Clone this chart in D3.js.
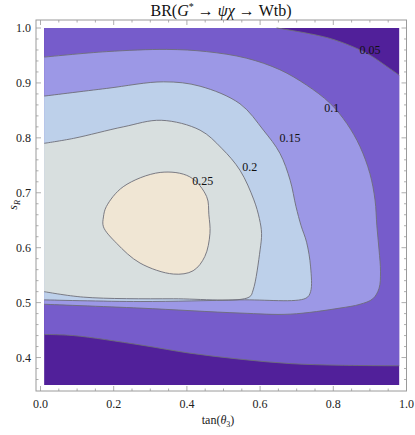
<!DOCTYPE html>
<html>
<head>
<meta charset="utf-8">
<script src="https://cdn.jsdelivr.net/npm/d3@7"></script>
<style>
  body { margin: 0; background: #fff; }
  text { font-family: "Liberation Serif", "Times New Roman", serif; }
</style>
</head>
<body>
<div id="chart"></div>
<script>
// contour levels of BR, and the band colours (lowest band first)
const levels = [0.05, 0.1, 0.15, 0.2, 0.25];
const levelLabels = ["0.05", "0.1", "0.15", "0.2", "0.25"];
const bandColors = ["#51209a", "#765ccb", "#9c98e6", "#bdd0ea", "#d8dfdf", "#f0e6d4"];

// contour lines, points are [tan(theta3), sR]
const c005low = [[0.01,0.442],[0.09,0.440],[0.272,0.423],[0.408,0.408],[0.545,0.397],[0.682,0.389],[0.818,0.386],[0.98,0.385]];
const c005top = [[0.645,1.0],[0.791,0.981],[0.891,0.954],[0.946,0.930],[0.98,0.914]];
const c010 = [[0.01,0.947],[0.181,0.957],[0.345,0.961],[0.454,0.957],[0.563,0.945],[0.654,0.924],[0.727,0.896],
  [0.791,0.863],[0.837,0.826],[0.873,0.784],[0.900,0.735],[0.914,0.687],[0.919,0.640],[0.925,0.596],[0.929,0.556],
  [0.925,0.526],[0.908,0.507],[0.873,0.497],[0.818,0.490],[0.682,0.479],[0.545,0.481],[0.272,0.490],[0.01,0.497]];
const c015 = [[0.01,0.876],[0.181,0.890],[0.336,0.902],[0.436,0.894],[0.545,0.862],[0.609,0.814],[0.654,0.772],
  [0.682,0.723],[0.698,0.675],[0.712,0.640],[0.727,0.610],[0.738,0.565],[0.738,0.520],[0.725,0.508],[0.545,0.505],
  [0.272,0.502],[0.01,0.505]];
const c020 = [[0.01,0.790],[0.09,0.799],[0.226,0.820],[0.330,0.832],[0.436,0.814],[0.495,0.781],[0.545,0.741],
  [0.583,0.687],[0.598,0.653],[0.604,0.626],[0.600,0.596],[0.581,0.523],[0.570,0.510],[0.363,0.507],[0.117,0.510],
  [0.01,0.520]];
const c025 = [[0.327,0.737],[0.408,0.729],[0.454,0.693],[0.460,0.660],[0.463,0.626],[0.449,0.584],[0.417,0.558],
  [0.363,0.552],[0.272,0.572],[0.208,0.608],[0.172,0.638],[0.172,0.656],[0.180,0.675],[0.226,0.711]];

// where the level labels sit
const labelX = [0.900, 0.796, 0.682, 0.572, 0.443];
const labelY = [0.960, 0.854, 0.799, 0.747, 0.721];

const xTicks = [0, 0.2, 0.4, 0.6, 0.8, 1.0];
const yTicks = [0.4, 0.5, 0.6, 0.7, 0.8, 0.9, 1.0];

const width = 415, height = 435;
const xData = [0.01, 0.98], yData = [0.35, 1.0];
const serif = "'Liberation Serif', 'Times New Roman', serif";

const x = d3.scaleLinear().domain([0, 1]).range([40.5, 406.5]);
const y = d3.scaleLinear().domain(yData).range([385, 28]);

const svg = d3.select("#chart").append("svg")
  .attr("width", width)
  .attr("height", height)
  .attr("font-family", serif);

const line = d3.line()
  .x(d => x(d[0]))
  .y(d => y(d[1]))
  .curve(d3.curveCatmullRom.alpha(0.5));
const closed = d3.line()
  .x(d => x(d[0]))
  .y(d => y(d[1]))
  .curve(d3.curveCatmullRomClosed.alpha(0.5));

const plot = svg.append("g");

// lowest band fills the whole plot range
plot.append("rect")
  .attr("x", x(xData[0])).attr("y", y(yData[1]))
  .attr("width", x(xData[1]) - x(xData[0]))
  .attr("height", y(yData[0]) - y(yData[1]))
  .attr("fill", bandColors[0]);

// region above 0.05
const above005 = line(c005low)
  + line(c005top.slice().reverse()).replace(/^M/, "L")
  + "L" + x(xData[0]) + "," + y(yData[1]) + "Z";
plot.append("path").attr("d", above005).attr("fill", bandColors[1]);

// the inner regions close along the left edge
[c010, c015, c020].forEach((c, i) => {
  plot.append("path").attr("d", line(c) + "Z").attr("fill", bandColors[i + 2]);
});
plot.append("path").attr("d", closed(c025)).attr("fill", bandColors[5]);

// contour lines
const lineColor = "#6e6e78";
[c005low, c005top, c010, c015, c020].forEach(c => {
  plot.append("path").attr("d", line(c))
    .attr("fill", "none").attr("stroke", lineColor).attr("stroke-width", 0.9);
});
plot.append("path").attr("d", closed(c025))
  .attr("fill", "none").attr("stroke", lineColor).attr("stroke-width", 0.9);

// level labels
plot.selectAll("text.lvl")
  .data(levels)
  .join("text")
  .attr("class", "lvl")
  .attr("x", (d, i) => x(labelX[i]))
  .attr("y", (d, i) => y(labelY[i]) + 4)
  .attr("text-anchor", "middle")
  .attr("font-family", serif)
  .attr("font-size", 12)
  .attr("fill", "#111")
  .text((d, i) => levelLabels[i]);

// frame
const fx0 = 36, fx1 = 406.5, fy0 = 20, fy1 = 391;
const frameColor = "#9a9a9a";
svg.append("rect")
  .attr("x", fx0).attr("y", fy0)
  .attr("width", fx1 - fx0).attr("height", fy1 - fy0)
  .attr("fill", "none").attr("stroke", frameColor).attr("stroke-width", 1);

// ticks on all four sides, pointing in
const xMinor = d3.range(0, 1.0001, 0.05).filter(v => !xTicks.some(t => Math.abs(t - v) < 1e-6));
const yMinor = d3.range(0.36, 1.0001, 0.02).filter(v => !yTicks.some(t => Math.abs(t - v) < 1e-6));
const ticks = svg.append("g").attr("stroke", frameColor).attr("stroke-width", 0.8);
xTicks.concat(xMinor).forEach(v => {
  const len = xTicks.includes(v) ? 5 : 2.5;
  ticks.append("line").attr("x1", x(v)).attr("x2", x(v)).attr("y1", fy1).attr("y2", fy1 - len);
  ticks.append("line").attr("x1", x(v)).attr("x2", x(v)).attr("y1", fy0).attr("y2", fy0 + len);
});
yTicks.concat(yMinor).forEach(v => {
  const len = yTicks.includes(v) ? 5 : 2.5;
  ticks.append("line").attr("y1", y(v)).attr("y2", y(v)).attr("x1", fx0).attr("x2", fx0 + len);
  ticks.append("line").attr("y1", y(v)).attr("y2", y(v)).attr("x1", fx1).attr("x2", fx1 - len);
});

// tick labels
svg.selectAll("text.xt")
  .data(xTicks)
  .join("text")
  .attr("class", "xt")
  .attr("x", d => x(d))
  .attr("y", 408)
  .attr("text-anchor", "middle")
  .attr("font-family", serif)
  .attr("font-size", 12)
  .attr("fill", "#222")
  .text(d => d3.format(".1f")(d));

svg.selectAll("text.yt")
  .data(yTicks)
  .join("text")
  .attr("class", "yt")
  .attr("x", 31)
  .attr("y", d => y(d) + 4)
  .attr("text-anchor", "end")
  .attr("font-family", serif)
  .attr("font-size", 12)
  .attr("fill", "#222")
  .text(d => d3.format(".1f")(d));

// axis titles
const xt = svg.append("text")
  .attr("x", 218).attr("y", 424)
  .attr("text-anchor", "middle")
  .attr("font-size", 12)
  .attr("fill", "#222");
xt.append("tspan").text("tan(");
xt.append("tspan").attr("font-style", "italic").text("θ");
xt.append("tspan").attr("font-size", 8).attr("dy", 3).text("3");
xt.append("tspan").attr("dy", -3).text(")");

const yt = svg.append("text")
  .attr("transform", "translate(17,205) rotate(-90)")
  .attr("text-anchor", "middle")
  .attr("font-size", 12)
  .attr("fill", "#222");
yt.append("tspan").attr("font-style", "italic").text("s");
yt.append("tspan").attr("font-style", "italic").attr("font-size", 8).attr("dy", 3).text("R");

// title
const title = svg.append("text")
  .attr("x", 221).attr("y", 16)
  .attr("text-anchor", "middle")
  .attr("font-size", 16)
  .attr("fill", "#111");
title.append("tspan").text("BR(");
title.append("tspan").attr("font-style", "italic").text("G");
title.append("tspan").attr("font-size", 10).attr("dy", -6).text("*");
title.append("tspan").attr("dy", 6).text(" → ");
title.append("tspan").attr("font-style", "italic").text("ψχ");
title.append("tspan").text(" → Wtb)");
</script>
</body>
</html>
